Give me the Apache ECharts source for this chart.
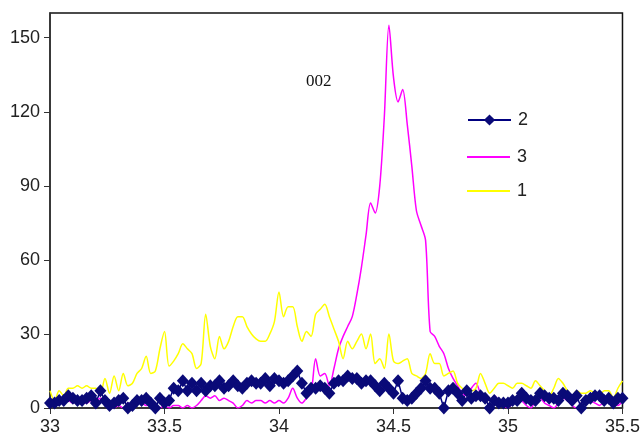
<!DOCTYPE html>
<html lang="en">
<head>
    <meta charset="utf-8">
    <title>002</title>
    <script src="https://cdn.jsdelivr.net/npm/echarts@6/dist/echarts.min.js"></script>
    <style>
        html, body { margin: 0; padding: 0; background: #fff; }
    </style>
</head>
<body>
<div id="chart" style="width:643px; height:439px;"></div>

<script>
    // 2-theta sampling: start 33, step 0.02
    var xStart = 33;
    var xStep = 0.02;

    var names = ['2', '3', '1'];

    var s2 = [2, 2, 3, 3, 5, 4, 3, 3, 4, 5, 2, 7, 3, 1, 2, 3, 4, 0, 1, 3,
              3, 4, 2, 0, 4, 2, 3, 8, 7, 11, 7, 10, 7, 10, 7, 9, 9, 11, 8, 9,
              11, 9, 8, 10, 11, 10, 10, 12, 9, 12, 11, 10, 11, 13, 15, 10, 6, 8, 8, 9,
              8, 6, 10, 11, 11, 13, 12, 12, 10, 11, 11, 9, 7, 10, 8, 6, 11, 4, 3, 4,
              6, 8, 11, 8, 8, 6, 0, 7, 8, 6, 3, 7, 4, 5, 5, 4, 0, 3, 2, 2,
              2, 3, 3, 6, 4, 3, 3, 6, 5, 4, 4, 3, 6, 5, 3, 5, 0, 3, 4, 5,
              5, 3, 4, 2, 4, 4];

    var s3 = [2, 2, 3, 2, 3, 2, 3, 2, 2, 3, 3, 4, 3, 1, 0, 1, 0, 2, 1, 2,
              2, 1, 2, 1, 0, 1, 0, 1, 1, 0, 1, 0, 1, 3, 5, 4, 5, 3, 4, 3,
              2, 0, 1, 3, 2, 3, 3, 2, 3, 2, 3, 2, 4, 8, 4, 2, 4, 6, 20, 13,
              14, 9, 16, 24, 29, 33, 37, 46, 57, 70, 83, 79, 90, 118, 155, 134, 124, 129, 115, 98,
              80, 74, 68, 31, 29, 25, 22, 16, 12, 9, 6, 5, 8, 10, 6, 4, 3, 5, 3, 1,
              0, 2, 4, 3, 1, 0, 3, 4, 2, 1, 0, 2, 4, 3, 1, 0, 2, 4, 3, 2,
              1, 3, 4, 2, 1, 3];

    var s1 = [7, 3, 7, 5, 8, 8, 9, 8, 9, 8, 8, 6, 12, 6, 13, 7, 14, 9, 10, 14,
              16, 21, 14, 15, 24, 31, 17, 19, 22, 26, 24, 22, 16, 18, 38, 25, 20, 29, 24, 27,
              33, 37, 37, 33, 30, 28, 27, 27, 30, 35, 47, 37, 41, 41, 33, 27, 31, 29, 38, 40,
              42, 37, 32, 27, 20, 27, 24, 27, 30, 24, 30, 18, 20, 16, 30, 19, 18, 19, 20, 14,
              13, 12, 14, 22, 18, 18, 13, 14, 15, 10, 8, 7, 7, 8, 14, 10, 6, 8, 10, 10,
              9, 8, 10, 10, 9, 8, 11, 9, 7, 5, 8, 12, 10, 7, 5, 7, 6, 6, 7, 6,
              5, 7, 7, 4, 8, 11];

    var yTicks = [0, 30, 60, 90, 120, 150];

    function pairs(vals) {
        return vals.map(function (v, i) {
            return [+(xStart + i * xStep).toFixed(2), v];
        });
    }

    var font = 'Liberation Sans, Arial, sans-serif';
    var chart = echarts.init(document.getElementById('chart'));

    var legendBase = {
        orient: 'vertical',
        left: 467,
        padding: 0,
        itemWidth: 43,
        itemHeight: 14,
        textStyle: { fontFamily: font, fontSize: 18, color: '#222', padding: [0, 0, 0, 2] }
    };

    chart.setOption({
        backgroundColor: '#fff',
        animation: false,
        grid: {
            left: 50, right: 15, top: 13, bottom: 31,
            show: true, borderColor: '#111', borderWidth: 1.5,
            backgroundColor: 'transparent'
        },
        legend: [
            Object.assign({}, legendBase, { data: [names[0]], top: 111 }),
            Object.assign({}, legendBase, { data: [{ name: names[1], icon: 'rect' }], top: 148, itemHeight: 2 }),
            Object.assign({}, legendBase, { data: [{ name: names[2], icon: 'rect' }], top: 182, itemHeight: 2 })
        ],
        graphic: [{
            type: 'text',
            left: 306,
            top: 73,
            style: {
                text: '002',
                font: '17px "Liberation Serif", "Times New Roman", serif',
                fill: '#111'
            }
        }],
        xAxis: {
            type: 'value',
            min: 33, max: 35.5, interval: 0.5,
            axisLine: { lineStyle: { color: '#333', width: 1.5 } },
            axisTick: { show: true, length: 6, lineStyle: { color: '#333' } },
            axisLabel: { fontFamily: font, fontSize: 18, color: '#222', margin: 10 },
            splitLine: { show: false }
        },
        yAxis: {
            type: 'value',
            min: yTicks[0], max: 160, interval: 30,
            axisLine: { show: true, lineStyle: { color: '#333', width: 1.5 } },
            axisTick: { show: true, length: 6, lineStyle: { color: '#333' } },
            axisLabel: { fontFamily: font, fontSize: 18, color: '#222', margin: 10, showMaxLabel: false },
            splitLine: { show: false }
        },
        series: [
            {
                name: names[0],
                type: 'line',
                data: pairs(s2),
                symbol: 'diamond',
                symbolSize: [12, 13],
                lineStyle: { color: '#000080', width: 1.5 },
                itemStyle: { color: '#0a0a78' }
            },
            {
                name: names[1],
                type: 'line',
                data: pairs(s3),
                showSymbol: false,
                symbol: 'none',
                smooth: 0.3,
                lineStyle: { color: '#ff00ff', width: 1.5 },
                itemStyle: { color: '#ff00ff' }
            },
            {
                name: names[2],
                type: 'line',
                data: pairs(s1),
                showSymbol: false,
                symbol: 'none',
                smooth: 0.3,
                lineStyle: { color: '#ffff00', width: 1.5 },
                itemStyle: { color: '#ffff00' }
            }
        ]
    });
</script>
</body>
</html>
